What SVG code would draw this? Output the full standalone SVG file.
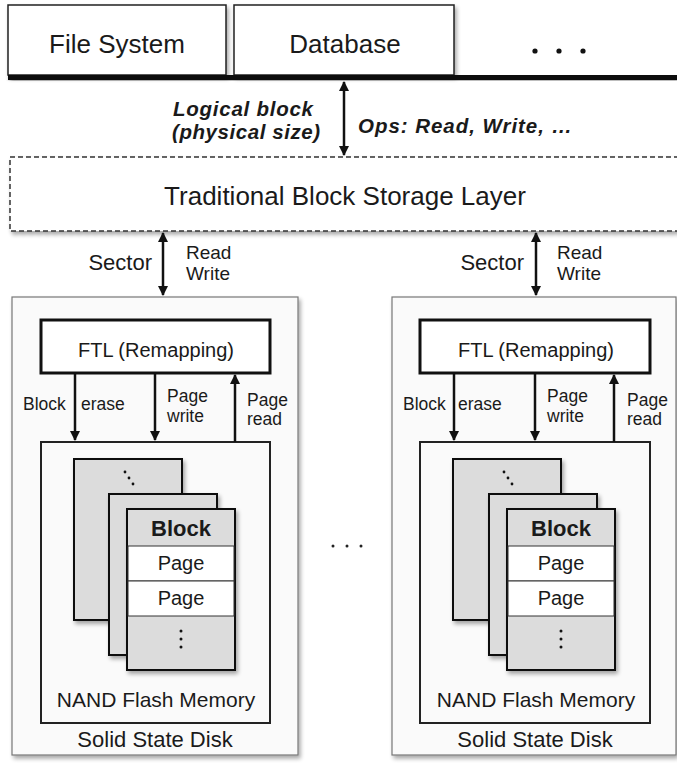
<svg xmlns="http://www.w3.org/2000/svg" width="677" height="764" viewBox="0 0 677 764">
<defs>
<marker id="ah" viewBox="0 0 10 10" refX="9" refY="5" markerWidth="4.2" markerHeight="4.2" orient="auto-start-reverse"><path d="M0,0 L10,5 L0,10 z" fill="#111"/></marker>
<filter id="sh" x="-10%" y="-10%" width="130%" height="130%"><feGaussianBlur in="SourceAlpha" stdDeviation="2"/><feOffset dx="2" dy="3"/><feComponentTransfer><feFuncA type="linear" slope="0.35"/></feComponentTransfer><feMerge><feMergeNode/><feMergeNode in="SourceGraphic"/></feMerge></filter>
</defs>
<style>
text{font-family:"Liberation Sans",Arial,sans-serif;fill:#1a1a1a}
.box{fill:#fff;stroke:#222;stroke-width:1.5}
.ssd{fill:#fafafa;stroke:#777;stroke-width:1.2}
.ftl{fill:#fff;stroke:#111;stroke-width:3}
.nand{fill:#fafafa;stroke:#222;stroke-width:2}
.blk{fill:#dcdcdc;stroke:#111;stroke-width:2}
.pg{fill:#fff;stroke:#333;stroke-width:1}
.ar{stroke:#111;stroke-width:2.5;fill:none;marker-end:url(#ah)}
.arb{stroke:#111;stroke-width:2.5;fill:none;marker-end:url(#ah);marker-start:url(#ah)}
.c{text-anchor:middle}
.bi{font-size:20.5px;font-weight:bold;font-style:italic}
.sm{font-size:17.5px}
.rw{font-size:19px}
</style>
<rect width="677" height="764" fill="#fff"/>

<g id="file-system"><rect class="box" x="8" y="5" width="218" height="70" filter="url(#sh)"/><text class="c" x="117" y="53" font-size="26">File System</text></g>
<g id="database"><rect class="box" x="234" y="5" width="220" height="70" filter="url(#sh)"/><text class="c" x="345" y="53" font-size="26">Database</text></g>
<g id="more-apps"><circle cx="535" cy="51" r="2.6" fill="#111"/><circle cx="559" cy="51" r="2.6" fill="#111"/><circle cx="583" cy="51" r="2.6" fill="#111"/></g>
<rect x="8" y="75" width="669" height="5" fill="#111" filter="url(#sh)"/>

<g id="block-layer"><rect x="10" y="157" width="670" height="74" fill="#fff" stroke="#333" stroke-width="1.5" stroke-dasharray="5,3" filter="url(#sh)"/><text class="c" x="345" y="205" font-size="26">Traditional Block Storage Layer</text></g>

<g id="ssd-left">
<rect class="ssd" x="12" y="297" width="286" height="458" filter="url(#sh)"/>
<rect class="ftl" x="41" y="320" width="229" height="53"/>
<text class="c" x="156" y="357" font-size="20">FTL (Remapping)</text>
<rect class="nand" x="41" y="442" width="229" height="281"/>
<rect class="blk" x="74" y="459" width="108" height="161" filter="url(#sh)"/>
<circle cx="125" cy="472" r="1.4" fill="#111"/><circle cx="129" cy="478" r="1.4" fill="#111"/><circle cx="133" cy="484" r="1.4" fill="#111"/>
<rect class="blk" x="109" y="494" width="108" height="161" filter="url(#sh)"/>
<rect class="blk" x="127" y="509" width="108" height="161" filter="url(#sh)"/>
<rect class="pg" x="128" y="546" width="106" height="35"/>
<rect class="pg" x="128" y="581" width="106" height="35"/>
<text class="c" x="181" y="536" font-size="22" font-weight="bold">Block</text>
<text class="c" x="181" y="570" font-size="20">Page</text>
<text class="c" x="181" y="605" font-size="20">Page</text>
<circle cx="181" cy="631" r="1.5" fill="#111"/><circle cx="181" cy="639" r="1.5" fill="#111"/><circle cx="181" cy="647" r="1.5" fill="#111"/>
<text class="c" x="156" y="707" font-size="21">NAND Flash Memory</text>
<text class="c" x="155" y="747" font-size="22">Solid State Disk</text>
</g>

<g id="ssd-right">
<rect class="ssd" x="392" y="297" width="284" height="458" filter="url(#sh)"/>
<rect class="ftl" x="420" y="320" width="230" height="53"/>
<text class="c" x="536" y="357" font-size="20">FTL (Remapping)</text>
<rect class="nand" x="420" y="442" width="230" height="281"/>
<rect class="blk" x="453" y="459" width="108" height="161" filter="url(#sh)"/>
<circle cx="504" cy="472" r="1.4" fill="#111"/><circle cx="508" cy="478" r="1.4" fill="#111"/><circle cx="512" cy="484" r="1.4" fill="#111"/>
<rect class="blk" x="489" y="494" width="108" height="161" filter="url(#sh)"/>
<rect class="blk" x="507" y="509" width="108" height="161" filter="url(#sh)"/>
<rect class="pg" x="508" y="546" width="106" height="35"/>
<rect class="pg" x="508" y="581" width="106" height="35"/>
<text class="c" x="561" y="536" font-size="22" font-weight="bold">Block</text>
<text class="c" x="561" y="570" font-size="20">Page</text>
<text class="c" x="561" y="605" font-size="20">Page</text>
<circle cx="561" cy="631" r="1.5" fill="#111"/><circle cx="561" cy="639" r="1.5" fill="#111"/><circle cx="561" cy="647" r="1.5" fill="#111"/>
<text class="c" x="536" y="707" font-size="21">NAND Flash Memory</text>
<text class="c" x="535" y="747" font-size="22">Solid State Disk</text>
</g>

<g id="more-ssd"><circle cx="333" cy="546" r="1.5" fill="#222"/><circle cx="347" cy="546" r="1.5" fill="#222"/><circle cx="361" cy="546" r="1.5" fill="#222"/></g>

<g id="connectors">
<line class="arb" x1="344" y1="82" x2="344" y2="155"/>
<line class="arb" x1="163" y1="233" x2="163" y2="295"/>
<line class="arb" x1="536" y1="233" x2="536" y2="295"/>
<line class="ar" x1="75" y1="373" x2="75" y2="440"/>
<line class="ar" x1="155" y1="373" x2="155" y2="440"/>
<line class="ar" x1="235" y1="442" x2="235" y2="375"/>
<line class="ar" x1="454" y1="373" x2="454" y2="440"/>
<line class="ar" x1="535" y1="373" x2="535" y2="440"/>
<line class="ar" x1="614" y1="442" x2="614" y2="375"/>
</g>

<g id="labels">
<text class="bi" x="173" y="116" textLength="140">Logical block</text>
<text class="bi" x="172" y="139" textLength="148">(physical size)</text>
<text class="bi" x="358" y="133" textLength="214">Ops: Read, Write, …</text>
<text x="152" y="270" font-size="22" text-anchor="end">Sector</text>
<text class="rw" x="186" y="259">Read</text>
<text class="rw" x="186" y="280">Write</text>
<text x="524" y="270" font-size="22" text-anchor="end">Sector</text>
<text class="rw" x="557" y="259">Read</text>
<text class="rw" x="557" y="280">Write</text>
<text class="sm" x="23" y="410">Block</text>
<text class="sm" x="81" y="410">erase</text>
<text class="sm" x="167" y="402">Page</text>
<text class="sm" x="167" y="422">write</text>
<text class="sm" x="247" y="406">Page</text>
<text class="sm" x="247" y="425">read</text>
<text class="sm" x="403" y="410">Block</text>
<text class="sm" x="458" y="410">erase</text>
<text class="sm" x="547" y="402">Page</text>
<text class="sm" x="547" y="422">write</text>
<text class="sm" x="627" y="406">Page</text>
<text class="sm" x="627" y="425">read</text>
</g>
</svg>
